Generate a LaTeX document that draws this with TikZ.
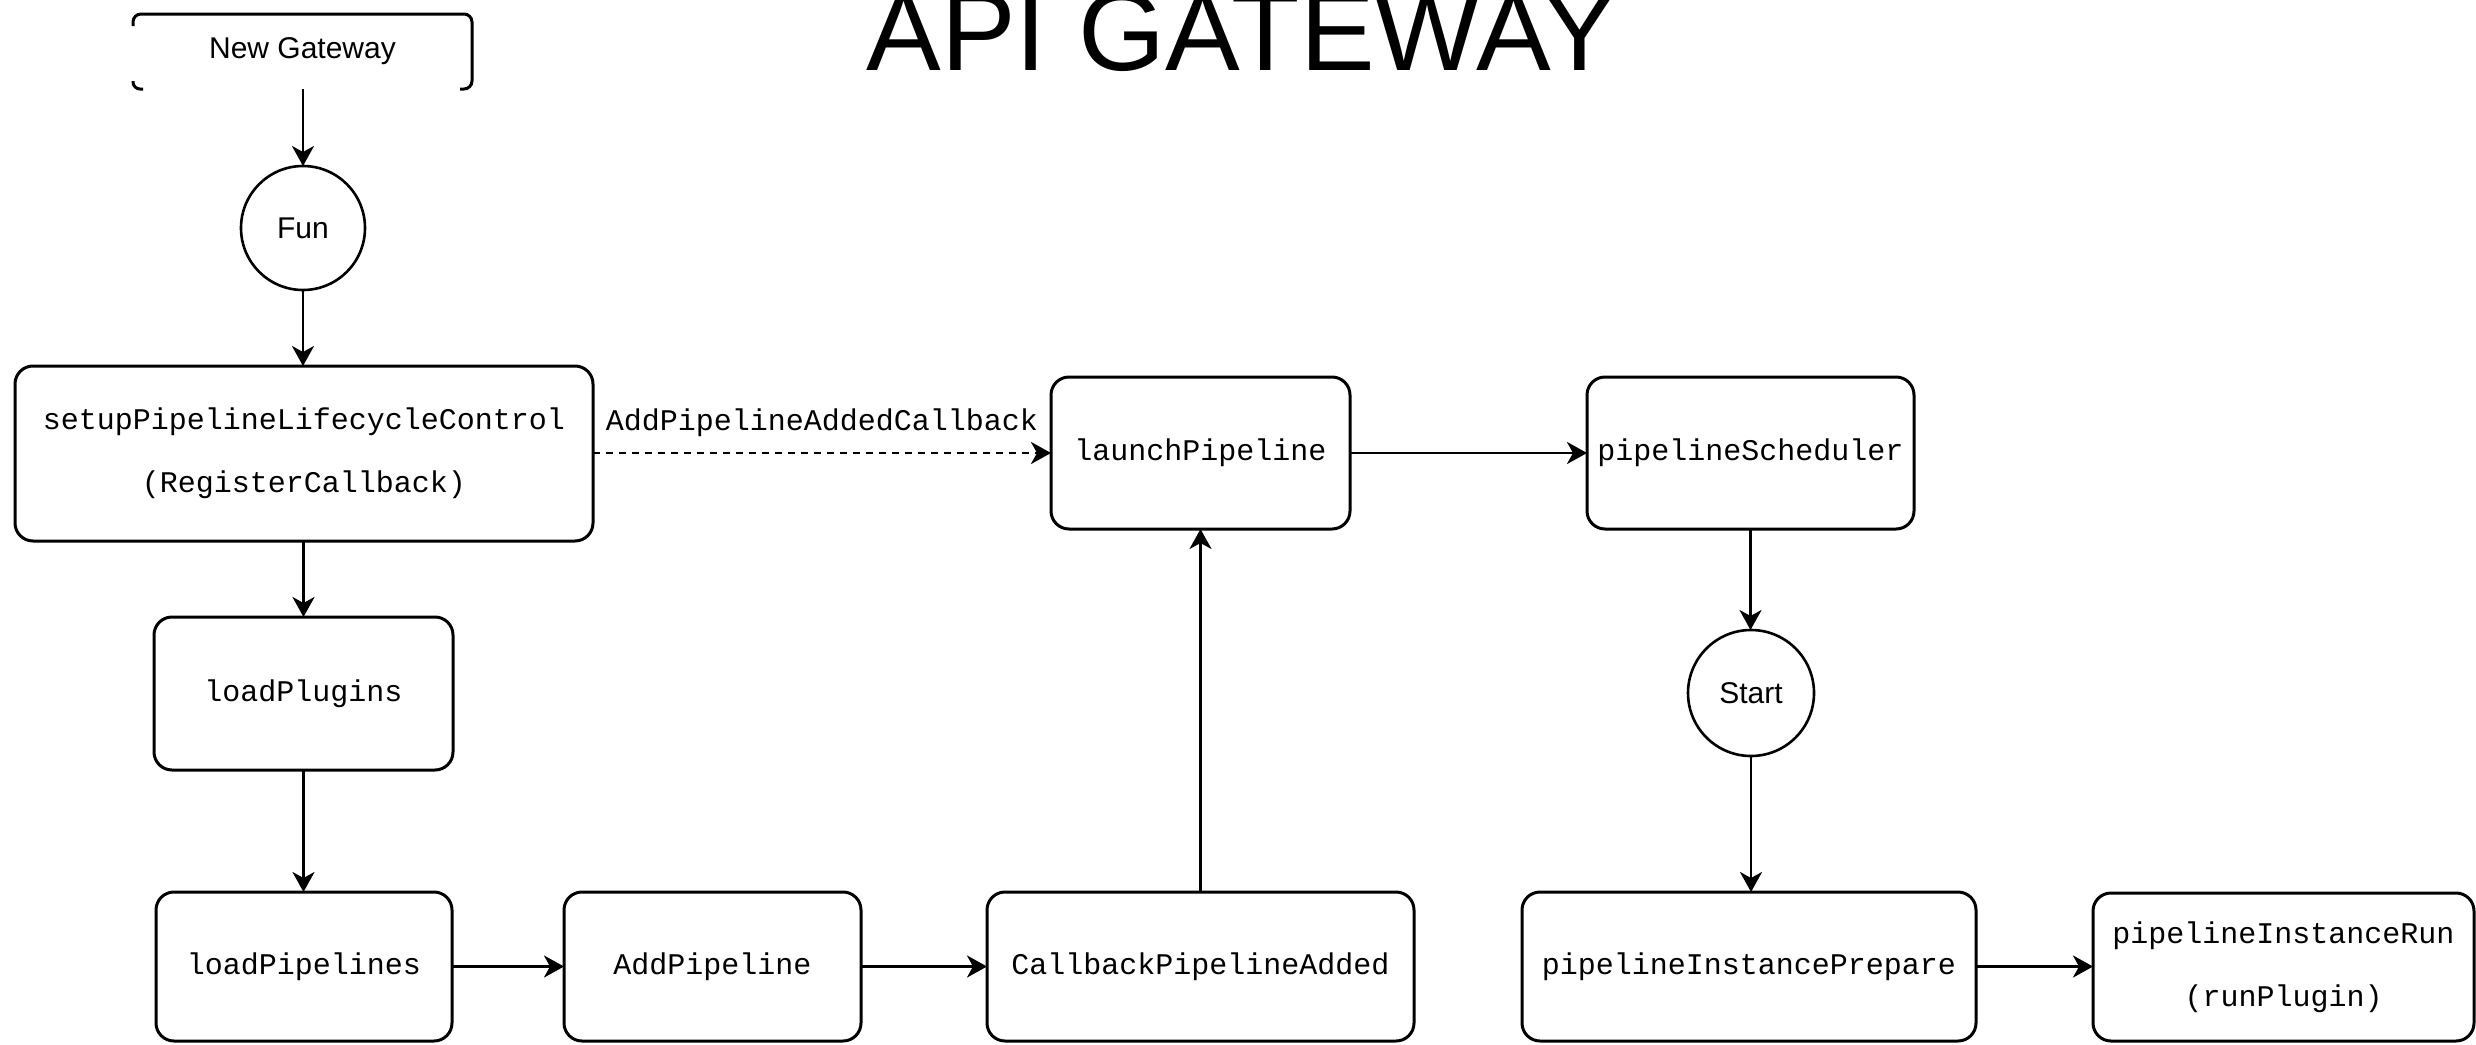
\documentclass[tikz,border=0pt]{standalone}
\usepackage{fontspec}
\setmainfont{Liberation Sans}
\newfontfamily\monof{Liberation Mono}
\usetikzlibrary{arrows.meta,calc}
\begin{document}
\begin{tikzpicture}[x=1pt,y=-1pt,
  every node/.style={inner sep=0pt,outer sep=0pt},
  boxline/.style={line width=3pt},
  proc/.style={draw,boxline,rectangle,rounded corners=18pt,font=\monof\fontsize{30}{63}\selectfont,align=center},
  term/.style={draw,line width=2.6pt,circle,minimum size=124pt,font=\fontsize{30}{36}\selectfont},
  conn/.style={line width=2.8pt,-{Stealth[length=20pt,width=22pt,inset=6pt]}},
  lbl/.style={font=\monof\fontsize{30}{36}\selectfont},
]
\fill[white] (0,0) rectangle (2476,1044);
\useasboundingbox (0,0) rectangle (2476,1044);

% title
\node[anchor=base,font=\fontsize{112}{120}\selectfont] (title) at (1242,70) {API GATEWAY};

% New Gateway (partially drawn box)
\node[minimum width=339pt,minimum height=75pt,font=\fontsize{30}{36}\selectfont] (ng) at (302.5,51.5) {New Gateway};
\draw[boxline,rounded corners=8pt] ($(ng.north west)+(0,12)$) -- (ng.north west) -- (ng.north east) -- (ng.south east) -- ($(ng.south east)+(-12,0)$);
\draw[boxline,rounded corners=7pt] ($(ng.south west)+(0,-8)$) -- (ng.south west) -- ($(ng.south west)+(10,0)$);

\node[term] (fun) at (303,228) {Fun};

\node[proc,minimum width=578pt,minimum height=175pt] (setup) at (304,453.5) {setupPipelineLifecycleControl\\(RegisterCallback)};
\node[proc,minimum width=299pt,minimum height=153pt] (plugins) at (303.5,693.5) {loadPlugins};
\node[proc,minimum width=296pt,minimum height=149pt] (pipelines) at (304,966.5) {loadPipelines};
\node[proc,minimum width=297pt,minimum height=149pt] (addp) at (712.5,966.5) {AddPipeline};
\node[proc,minimum width=427pt,minimum height=149pt] (cb) at (1200.5,966.5) {CallbackPipelineAdded};
\node[proc,minimum width=299pt,minimum height=152pt] (launch) at (1200.5,453) {launchPipeline};
\node[proc,minimum width=327pt,minimum height=152pt] (sched) at (1750.5,453) {pipelineScheduler};
\node[term,minimum size=126pt] (start) at (1751,693) {Start};
\node[proc,minimum width=454pt,minimum height=149pt] (prep) at (1749,966.5) {pipelineInstancePrepare};
\node[proc,minimum width=381pt,minimum height=148pt] (run) at (2283.5,967) {pipelineInstanceRun\\(runPlugin)};

% connectors
\draw[conn] (ng.south -| fun.north) -- (fun.north);
\draw[conn] (fun.south) -- (fun.south |- setup.north);
\draw[conn] (setup.south -| plugins.north) -- (plugins.north);
\draw[conn] (plugins.south) -- (plugins.south |- pipelines.north);
\draw[conn] (pipelines.east) -- (addp.west);
\draw[conn] (addp.east) -- (cb.west);
\draw[conn] (cb.north) -- (launch.south);
\draw[conn,dash pattern=on 7pt off 6pt] (setup.east |- launch.west) -- node[lbl,yshift=30pt] (cblbl) {AddPipelineAddedCallback} (launch.west);
\draw[conn] (launch.east) -- (sched.west);
\draw[conn] (sched.south) -- (start.north -| sched.south);
\draw[conn] (start.south) -- (start.south |- prep.north);
\draw[conn] (prep.east) -- (prep.east -| run.west);
\end{tikzpicture}
\end{document}
